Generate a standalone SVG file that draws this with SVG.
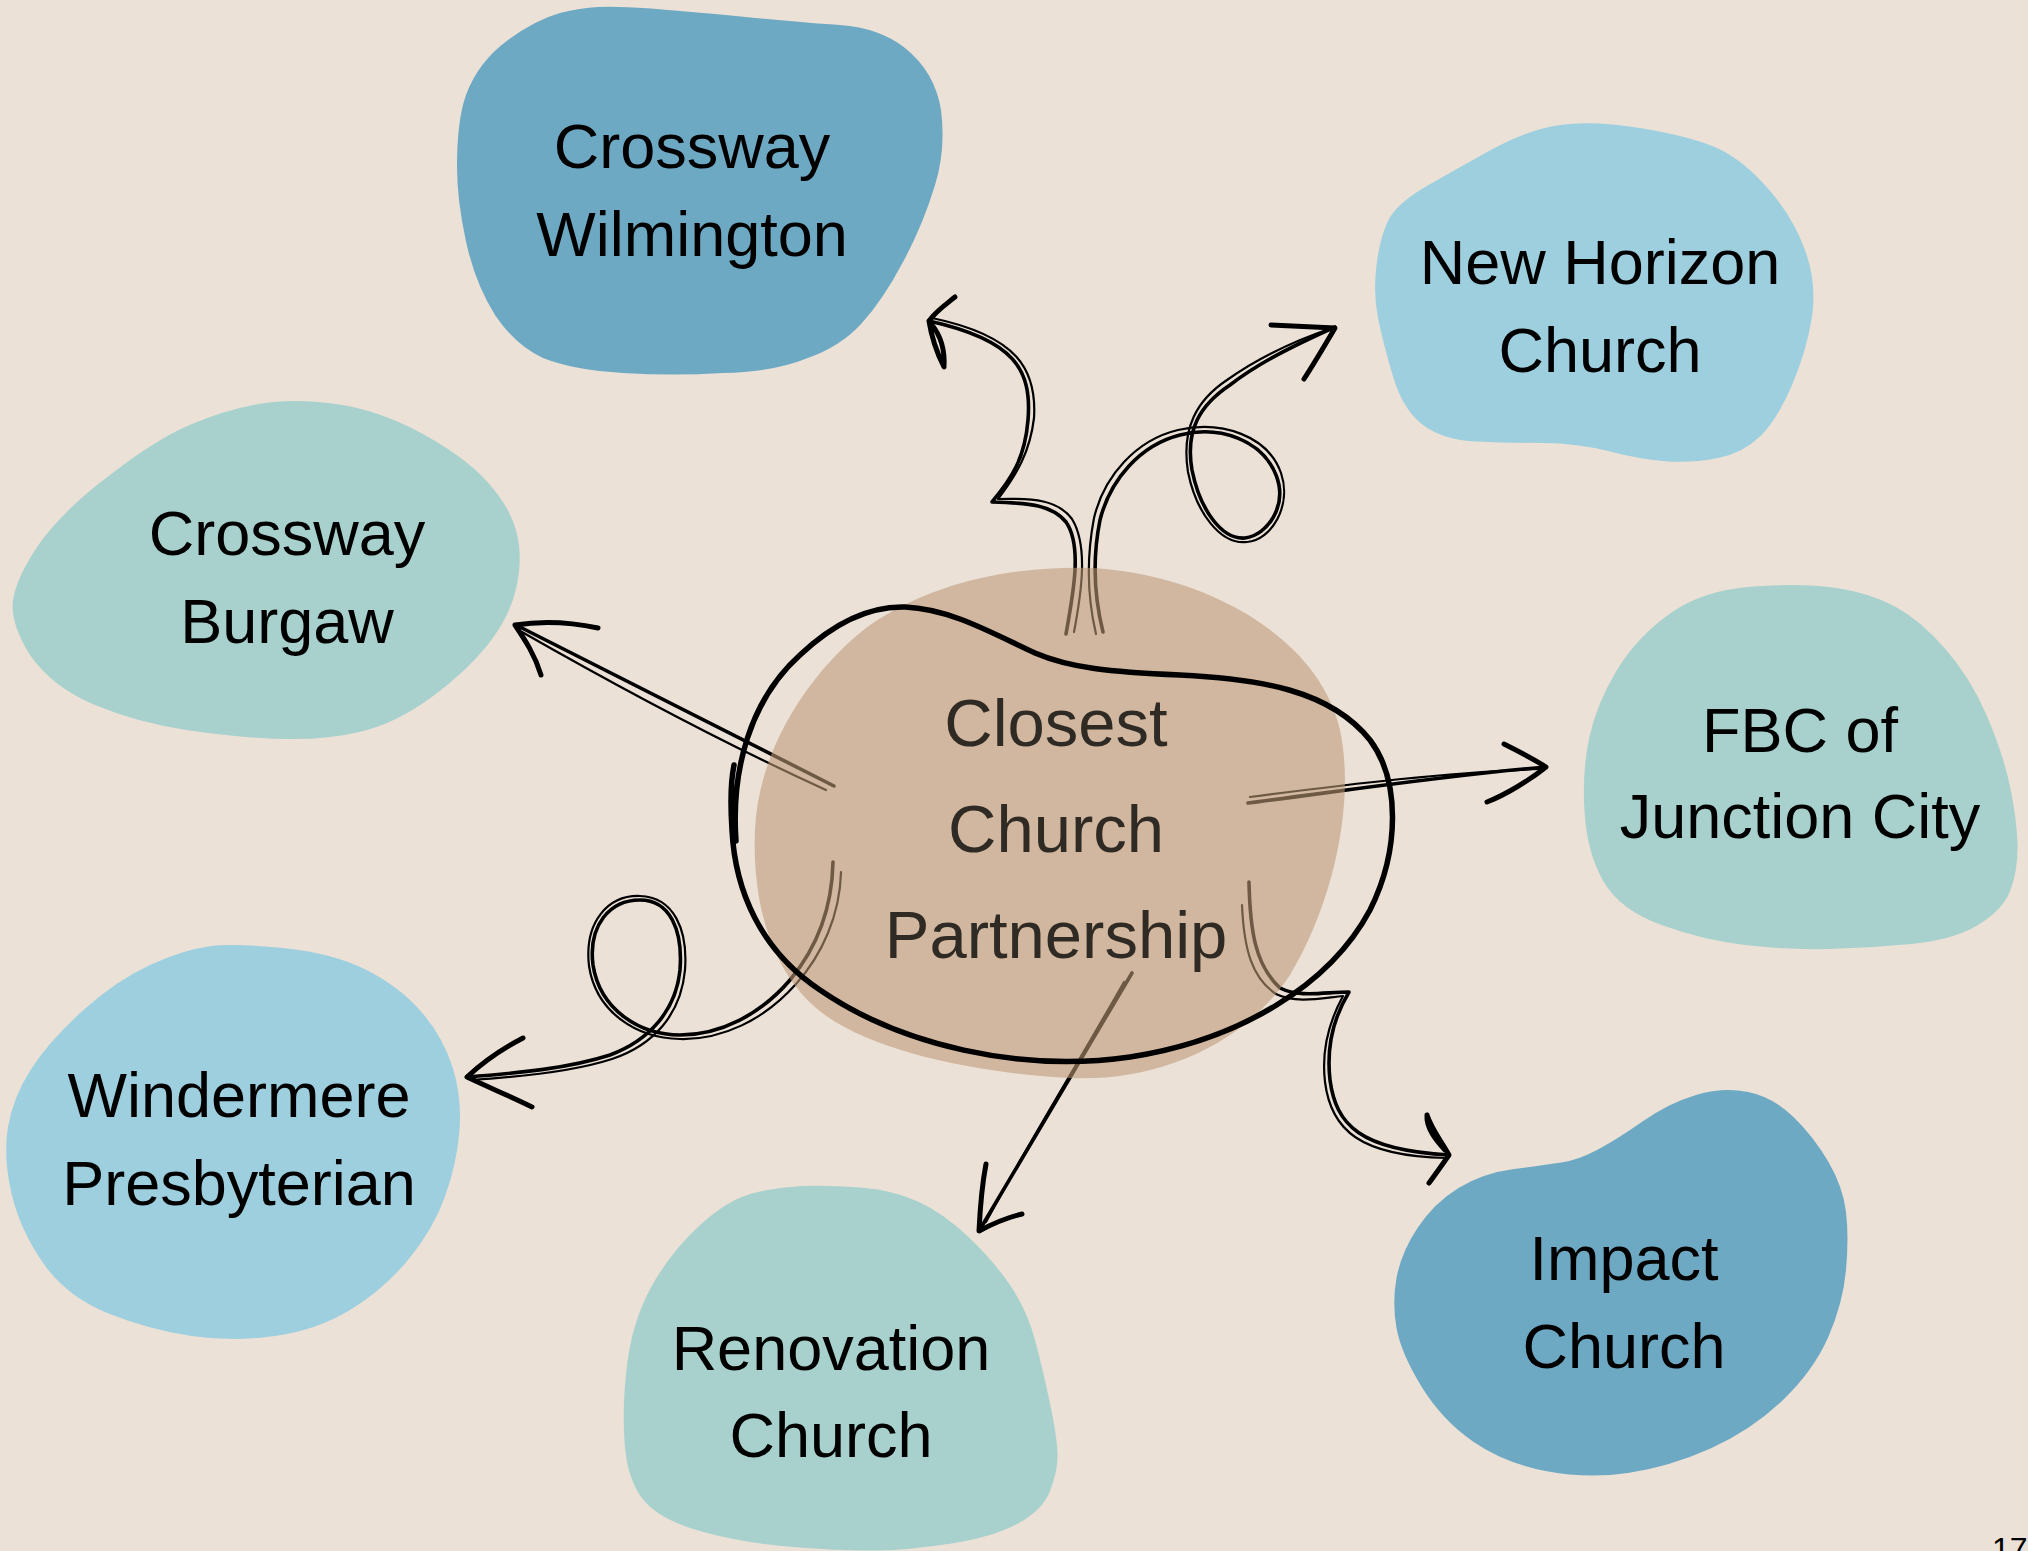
<svg xmlns="http://www.w3.org/2000/svg" width="2028" height="1551" viewBox="0 0 2028 1551">
<style>
.lbl{font-family:"Liberation Sans",Arial,sans-serif;font-size:63px;fill:#000;text-anchor:middle}
.ctr{font-family:"Liberation Sans",Arial,sans-serif;font-size:67px;fill:#2F2A23;text-anchor:middle}
.c1{fill:none;stroke:#000;stroke-width:3.6;stroke-linecap:round;stroke-linejoin:round}
.c2{fill:none;stroke:#000;stroke-width:2.2;stroke-linecap:round;stroke-linejoin:round}
.ah{fill:none;stroke:#000;stroke-width:5;stroke-linecap:round;stroke-linejoin:round}
.dark{fill:#6EA9C3}.light{fill:#9ECFDE}.teal{fill:#A8D1CD}
</style>
<rect width="2028" height="1551" fill="#EBE1D7"/>
<g id="node-crossway-wilmington">
<path class="dark" d="M598,7 Q623,5 715,14 Q807,23 840,25 Q880,28 905,48 Q935,72 941,110 Q946,150 935,185 Q923,225 903,262 Q883,300 861.5,323.5 Q840,347 806.5,358.5 Q773,372 723,373 Q673,376 623,373 Q573,370 543,358 Q515,345 495,315 Q475,283 466,241.5 Q457,200 457,166.5 Q457,120 466,95 Q478,62 508,40 Q535,20 560,13 Q580,8 598,7 Z"/>
<text class="lbl" x="692" y="168">Crossway</text>
<text class="lbl" x="692" y="256">Wilmington</text>
</g>
<g id="node-new-horizon">
<path class="light" d="M1560,125 Q1593,120 1643,128.5 Q1693,137 1718,148.5 Q1743,160 1768,188.5 Q1793,217 1805,250 Q1817,283 1812,316.5 Q1807,350 1792,385 Q1777,420 1760,436.5 Q1743,453 1718,458 Q1693,463 1668,461.5 Q1643,460 1610,451.5 Q1577,443 1543.5,443 Q1510,443 1476.5,441.5 Q1443,440 1423,425 Q1403,410 1393,376.5 Q1383,343 1378,318 Q1373,293 1376.5,265 Q1380,237 1388.5,220 Q1397,203 1428.5,185 Q1460,167 1493.5,148.5 Q1527,130 1560,125 Z"/>
<text class="lbl" x="1600" y="284">New Horizon</text>
<text class="lbl" x="1600" y="372">Church</text>
</g>
<g id="node-crossway-burgaw">
<path class="teal" d="M258.5,404 Q293,398 336,404 Q379,410 422,433.5 Q465,457 487.5,482 Q510,507 516.5,532 Q523,557 516.5,587 Q510,617 487.5,645 Q465,673 430.5,698 Q396,723 361.5,731.5 Q327,740 284,739 Q241,738 189.5,730.5 Q138,723 95,705 Q52,687 30,655 Q10,623 13,600 Q17,575 42,540 Q69,505 112,473.5 Q155,440 189.5,425 Q224,410 258.5,404 Z"/>
<text class="lbl" x="287" y="555">Crossway</text>
<text class="lbl" x="287" y="643">Burgaw</text>
</g>
<g id="node-fbc-junction-city">
<path class="teal" d="M1753,586.5 Q1803,583 1836.5,588 Q1870,593 1895,606.5 Q1920,620 1945,648.5 Q1970,677 1986.5,715 Q2003,753 2010,786.5 Q2017,820 2017.5,845 Q2018,870 2010.5,890 Q2003,910 1978,925 Q1953,940 1911.5,944 Q1870,948 1828.5,949 Q1787,950 1745,945 Q1703,940 1661.5,925 Q1620,910 1603.5,881.5 Q1587,853 1584.5,811.5 Q1582,770 1589.5,736.5 Q1597,703 1617,670 Q1637,637 1670,613.5 Q1703,590 1753,586.5 Z"/>
<text class="lbl" x="1800" y="752">FBC of</text>
<text class="lbl" x="1800" y="838">Junction City</text>
</g>
<g id="node-windermere">
<path class="light" d="M208,946.5 Q233,943 283,948 Q333,953 366.5,970 Q400,987 421.5,1012 Q443,1037 452.5,1067 Q462,1097 459.5,1130 Q457,1163 445,1196.5 Q433,1230 408,1260 Q383,1290 350,1310 Q317,1330 275,1336 Q233,1342 191.5,1336 Q150,1330 108.5,1313.5 Q67,1297 43.5,1263.5 Q20,1230 11.5,1193.5 Q3,1157 8,1127 Q13,1097 31.5,1068.5 Q50,1040 83.5,1010 Q117,980 150,965 Q183,950 208,946.5 Z"/>
<text class="lbl" x="239" y="1117">Windermere</text>
<text class="lbl" x="239" y="1205">Presbyterian</text>
</g>
<g id="node-renovation">
<path class="teal" d="M802,1186 Q827,1185 860,1187.5 Q893,1190 918,1201.5 Q943,1213 968,1236.5 Q993,1260 1010,1285 Q1027,1310 1035,1340 Q1043,1370 1050,1403.5 Q1057,1437 1057.5,1453.5 Q1058,1470 1050.5,1490 Q1043,1510 1018,1523.5 Q993,1537 951.5,1543.5 Q910,1550 876.5,1550.5 Q843,1551 793,1547 Q743,1543 701.5,1531.5 Q660,1520 643.5,1500 Q627,1480 624.5,1441.5 Q622,1403 627.5,1361.5 Q633,1320 651.5,1286.5 Q670,1253 698.5,1226.5 Q727,1200 752,1193.5 Q777,1187 802,1186 Z"/>
<text class="lbl" x="831" y="1370">Renovation</text>
<text class="lbl" x="831" y="1457">Church</text>
</g>
<g id="node-impact">
<path class="dark" d="M1696,1095 Q1723,1087 1748,1092 Q1773,1097 1793.5,1117 Q1814,1137 1828.5,1162 Q1843,1187 1846,1212 Q1849,1237 1846,1270 Q1843,1303 1828.5,1336.5 Q1814,1370 1783,1400 Q1752,1430 1710.5,1448.5 Q1669,1467 1628,1473 Q1587,1479 1545.5,1471 Q1504,1463 1473,1441.5 Q1442,1420 1421.5,1386.5 Q1401,1353 1396.5,1328 Q1392,1303 1396.5,1278 Q1401,1253 1417.5,1228 Q1434,1203 1458.5,1188 Q1483,1173 1514,1169 Q1545,1165 1561.5,1162.5 Q1578,1160 1597,1150 Q1616,1140 1642.5,1121.5 Q1669,1103 1696,1095 Z"/>
<text class="lbl" x="1624" y="1280">Impact</text>
<text class="lbl" x="1624" y="1368">Church</text>
</g>
<g id="connectors">
<path class="c1" d="M834,786 Q700,718 516,625"/>
<path class="c2" d="M826,790 Q690,728 522,632"/>
<path class="ah" d="M598,628 C570,622 540,621 515,625 C525,640 535,655 541,675"/>
<path class="c1" d="M1066,634 C1074,590 1082,545 1066,522 C1052,505 1030,503 992,502 C1012,478 1025,458 1028,420 C1032,370 1015,340 929,321"/>
<path class="c2" d="M1074,632 C1082,590 1088,545 1072,519 C1058,500 1034,498 998,499 C1017,474 1030,452 1034,418 C1037,370 1018,336 932,318"/>
<path class="ah" d="M955,297 C945,305 935,312 929,321 C932,340 938,355 944,367 C945,350 940,335 932,325"/>
<path class="c1" d="M1103,632 C1095,600 1092,560 1100,520 C1110,480 1140,445 1180,435 C1220,425 1262,440 1276,475 C1288,505 1268,535 1245,538 C1222,540 1200,510 1192,470 C1185,430 1200,405 1230,385 C1260,362 1295,345 1335,327"/>
<path class="c2" d="M1096,634 C1088,600 1086,560 1094,518 C1104,476 1136,440 1178,430 C1222,420 1268,436 1281,473 C1292,505 1272,540 1247,542 C1220,545 1196,512 1188,472 C1181,428 1197,400 1227,380 C1258,358 1296,340 1335,327"/>
<path class="ah" d="M1271,325 L1335,328 C1325,345 1315,362 1304,379"/>
<path class="c1" d="M1248,803 C1350,790 1450,775 1546,767"/>
<path class="c2" d="M1250,797 C1350,784 1450,772 1540,769"/>
<path class="ah" d="M1504,744 C1520,752 1535,760 1546,767 C1530,780 1505,795 1487,802"/>
<path class="c1" d="M1249,882 C1250,930 1255,965 1280,988 C1300,998 1325,992 1349,992 C1335,1015 1326,1045 1330,1080 C1336,1125 1360,1150 1449,1155"/>
<path class="c2" d="M1242,905 C1244,950 1252,978 1276,994 C1296,1004 1322,998 1343,996 C1331,1018 1321,1048 1325,1082 C1331,1130 1360,1156 1446,1158"/>
<path class="ah" d="M1427,1115 C1432,1130 1442,1142 1449,1155 C1442,1165 1435,1175 1429,1183 M1427,1115 C1426,1128 1436,1140 1445,1150"/>
<path class="c1" d="M1132,973 L979,1231"/>
<path class="c2" d="M1124,982 C1080,1060 1030,1140 986,1222"/>
<path class="ah" d="M986,1164 C982,1185 980,1210 979,1231 C992,1224 1005,1218 1022,1214"/>
<path class="c1" d="M833,862 C832,910 815,950 790,980 C760,1015 720,1035 680,1035 C640,1035 600,1010 593,965 C588,925 610,900 640,900 C670,900 683,930 680,970 C676,1010 650,1040 610,1055 C570,1068 520,1073 467,1077"/>
<path class="c2" d="M841,872 C840,915 822,955 796,984 C764,1020 722,1040 680,1039 C636,1038 596,1012 589,966 C584,922 608,895 640,896 C674,897 688,930 685,970 C681,1014 654,1045 612,1059 C572,1072 520,1077 470,1080"/>
<path class="ah" d="M523,1038 C500,1050 480,1065 467,1077 C490,1088 512,1097 532,1107"/>
</g>
<g id="node-closest-church-partnership">
<path fill="#BE9977" fill-opacity="0.58" d="M1093,568 C1210,575 1320,640 1340,730 C1355,800 1335,900 1290,975 C1240,1050 1150,1082 1070,1078 C990,1074 880,1055 825,1015 C770,975 752,900 755,830 C758,750 810,670 870,625 C940,578 1020,566 1093,568 Z"/>
<path fill="none" stroke="#000" stroke-width="5.5" stroke-linecap="round" d="M736,841 C731,770 750,700 800,655 C835,622 870,606 905,607 C950,609 990,632 1035,653 C1070,668 1110,672 1180,675 C1260,679 1330,690 1370,740 C1400,780 1400,850 1370,910 C1330,985 1240,1040 1130,1057 C1020,1073 900,1045 820,990 C760,950 735,890 732,830 C730,800 731,780 734,765"/>
<text class="ctr" x="1056" y="746">Closest</text>
<text class="ctr" x="1056" y="852">Church</text>
<text class="ctr" x="1056" y="958">Partnership</text>
</g>
<text x="1992" y="1560" font-family="Liberation Sans, Arial, sans-serif" font-size="32" fill="#000">17</text>
</svg>
